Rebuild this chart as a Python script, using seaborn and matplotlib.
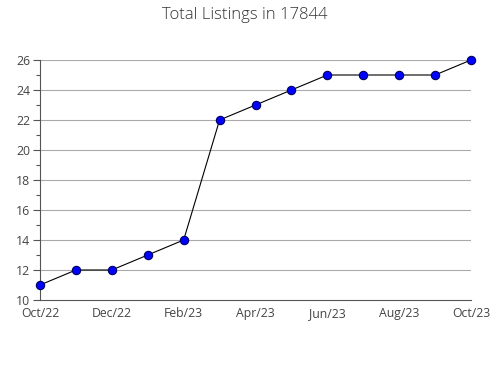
import matplotlib
matplotlib.use("Agg")
import matplotlib.pyplot as plt
import seaborn as sns
import pandas as pd
from matplotlib.ticker import MultipleLocator

months = ["Oct/22", "Nov/22", "Dec/22", "Jan/23", "Feb/23", "Mar/23", "Apr/23",
          "May/23", "Jun/23", "Jul/23", "Aug/23", "Sep/23", "Oct/23"]
listings = [11, 12, 12, 13, 14, 22, 23, 24, 25, 25, 25, 25, 26]
title = "Total Listings in 17844"

sns.set_style("white")
plt.rcParams['font.family'] = ['Open Sans', 'DejaVu Sans']

df = pd.DataFrame({"idx": range(len(months)), "month": months, "value": listings})

fig = plt.figure(figsize=(4.9, 3.8), dpi=100)
ax = fig.add_axes([40/490, 80/380, (471-40)/490, (300-60)/380])

ax.set_axisbelow(True)
for y in range(12, 27, 2):
    ax.axhline(y, color="#aaaaaa", linewidth=0.8, zorder=0)

sns.lineplot(data=df, x="idx", y="value", ax=ax, color="black", linewidth=0.8,
             marker="o", markersize=6, markerfacecolor="#0000ff",
             markeredgecolor="#000060", markeredgewidth=0.8, zorder=3, clip_on=False)

ax.set_xlim(0, len(months) - 1)
ax.set_ylim(10, 26)
ax.set_xticks(range(len(months)))
ax.set_xticklabels([m if i % 2 == 0 else "" for i, m in enumerate(months)])
ax.yaxis.set_major_locator(MultipleLocator(2))
ax.yaxis.set_minor_locator(MultipleLocator(1))

ax.tick_params(axis="x", which="both", direction="out", length=5, width=0.8,
               color="#555555", labelsize=8.8, labelcolor="#444444", pad=0)
ax.tick_params(axis="y", which="major", direction="out", length=5, width=0.8,
               color="#555555", labelsize=8.8, labelcolor="#444444", pad=2, left=True)
ax.tick_params(axis="y", which="minor", direction="out", length=3, width=0.8,
               color="#555555", left=True)

for side in ["top", "right"]:
    ax.spines[side].set_visible(False)
for side in ["left", "bottom"]:
    ax.spines[side].set_color("#555555")
    ax.spines[side].set_linewidth(0.8)

ax.set_xlabel("")
ax.set_ylabel("")
fig.text(0.5, 1 - 15/380, title, ha="center", va="center", fontsize=12,
         color="#333333", fontweight="light")

fig.savefig("out.png", dpi=100)
